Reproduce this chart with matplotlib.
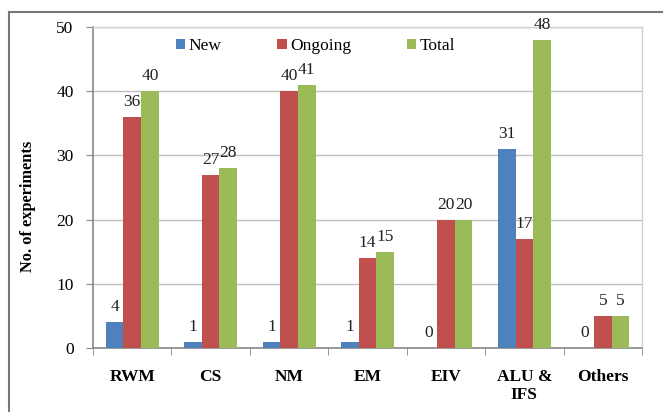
import numpy as np
import matplotlib.pyplot as plt
from matplotlib.lines import Line2D

# dati
categorie = ['RWM', 'CS', 'NM', 'EM', 'EIV', 'ALU &\nIFS', 'Others']
nuovi = [4, 1, 1, 1, 0, 31, 0]
in_corso = [36, 27, 40, 14, 20, 17, 5]
totale = [40, 28, 41, 15, 20, 48, 5]
serie = ['New', 'Ongoing', 'Total']
colori = ['#4F81BD', '#C0504D', '#9BBB59']

plt.rcParams['font.family'] = ['Liberation Serif', 'DejaVu Serif']
plt.rcParams['font.size'] = 12

W, H = 663, 412
fig = plt.figure(figsize=(W / 100, H / 100), dpi=100)
ax = fig.add_axes([93 / W, 1 - 348 / H, (642 - 93) / W, (348 - 27) / H])

x = np.arange(len(categorie))
larg = 0.225
for k, (vals, nome, col) in enumerate(zip([nuovi, in_corso, totale], serie, colori)):
    pos = x + (k - 1) * larg
    barre = ax.bar(pos, vals, larg, color=col, label=nome, zorder=3)
    for b, v in zip(barre, vals):
        ax.annotate(str(v), (b.get_x() + b.get_width() / 2, v),
                    xytext=(0, 5), textcoords='offset points',
                    ha='center', va='bottom', fontsize=12.5, color='#222222')

ax.set_xlim(-0.5, len(categorie) - 0.5)
ax.set_ylim(0, 50)
ax.set_yticks(range(0, 51, 10))
ax.yaxis.grid(True, color='#BFBFBF', linewidth=1, zorder=0)
ax.set_axisbelow(True)

ax.set_xticks(x)
ax.set_xticklabels(categorie, fontweight='bold', fontsize=12.5, linespacing=1.2)
ax.tick_params(axis='x', length=0, pad=15)
ax.set_xticks(np.arange(-0.5, len(categorie), 1), minor=True)
ax.tick_params(axis='x', which='minor', length=5, color='#888888', direction='out')
ax.tick_params(axis='y', length=5, color='#888888', direction='out', pad=9, labelsize=12.5)

for s in ['left', 'bottom']:
    ax.spines[s].set_color('#888888')
    ax.spines[s].set_linewidth(1.2)
for s in ['top', 'right']:
    ax.spines[s].set_color('#D0D0D0')
    ax.spines[s].set_linewidth(1)

ax.set_ylabel('No. of experiments', fontweight='bold', fontsize=11.8)
ax.yaxis.set_label_coords(-0.104, 0.44)

ax.legend(loc='center', bbox_to_anchor=(0.405, 0.94), ncol=3, frameon=False,
          handlelength=0.55, handleheight=0.55, handletextpad=0.2,
          columnspacing=3.2, fontsize=12.5)

# cornice esterna
fig.add_artist(Line2D([9 / W, 1.01], [1 - 12 / H, 1 - 12 / H], color='#777777', lw=1.5))
fig.add_artist(Line2D([9 / W, 9 / W], [1 - 12 / H, -0.01], color='#777777', lw=1.5))

fig.savefig('out.png', dpi=100)
